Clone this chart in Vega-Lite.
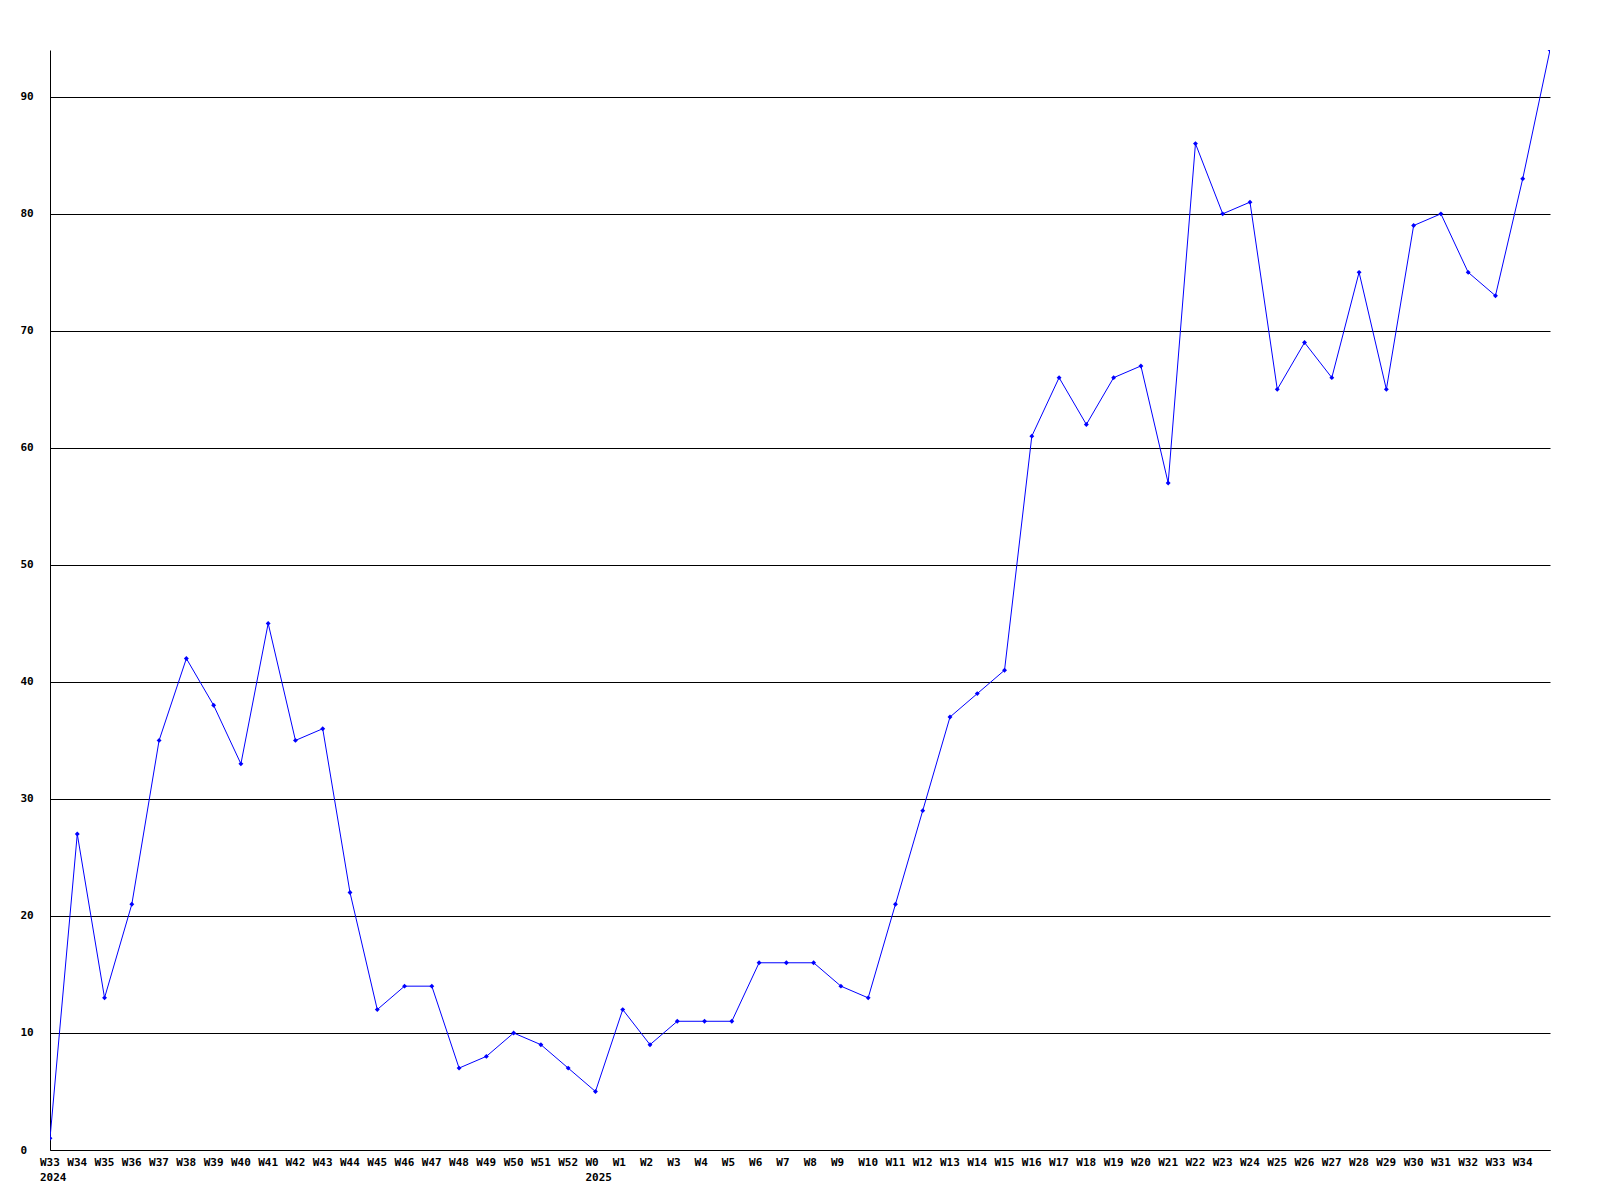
{
  "$schema": "https://vega.github.io/schema/vega-lite/v6.json",
  "width": 1500,
  "height": 1100,
  "autosize": {"type": "none"},
  "padding": {"left": 50, "top": 50, "right": 50, "bottom": 50},
  "background": "white",
  "config": {"view": {"stroke": null}},
  "data": {"values": [
    {"k": "2024-W33", "v": 1},
    {"k": "2024-W34", "v": 27},
    {"k": "2024-W35", "v": 13},
    {"k": "2024-W36", "v": 21},
    {"k": "2024-W37", "v": 35},
    {"k": "2024-W38", "v": 42},
    {"k": "2024-W39", "v": 38},
    {"k": "2024-W40", "v": 33},
    {"k": "2024-W41", "v": 45},
    {"k": "2024-W42", "v": 35},
    {"k": "2024-W43", "v": 36},
    {"k": "2024-W44", "v": 22},
    {"k": "2024-W45", "v": 12},
    {"k": "2024-W46", "v": 14},
    {"k": "2024-W47", "v": 14},
    {"k": "2024-W48", "v": 7},
    {"k": "2024-W49", "v": 8},
    {"k": "2024-W50", "v": 10},
    {"k": "2024-W51", "v": 9},
    {"k": "2024-W52", "v": 7},
    {"k": "2025-W0", "v": 5},
    {"k": "2025-W1", "v": 12},
    {"k": "2025-W2", "v": 9},
    {"k": "2025-W3", "v": 11},
    {"k": "2025-W4", "v": 11},
    {"k": "2025-W5", "v": 11},
    {"k": "2025-W6", "v": 16},
    {"k": "2025-W7", "v": 16},
    {"k": "2025-W8", "v": 16},
    {"k": "2025-W9", "v": 14},
    {"k": "2025-W10", "v": 13},
    {"k": "2025-W11", "v": 21},
    {"k": "2025-W12", "v": 29},
    {"k": "2025-W13", "v": 37},
    {"k": "2025-W14", "v": 39},
    {"k": "2025-W15", "v": 41},
    {"k": "2025-W16", "v": 61},
    {"k": "2025-W17", "v": 66},
    {"k": "2025-W18", "v": 62},
    {"k": "2025-W19", "v": 66},
    {"k": "2025-W20", "v": 67},
    {"k": "2025-W21", "v": 57},
    {"k": "2025-W22", "v": 86},
    {"k": "2025-W23", "v": 80},
    {"k": "2025-W24", "v": 81},
    {"k": "2025-W25", "v": 65},
    {"k": "2025-W26", "v": 69},
    {"k": "2025-W27", "v": 66},
    {"k": "2025-W28", "v": 75},
    {"k": "2025-W29", "v": 65},
    {"k": "2025-W30", "v": 79},
    {"k": "2025-W31", "v": 80},
    {"k": "2025-W32", "v": 75},
    {"k": "2025-W33", "v": 73},
    {"k": "2025-W34", "v": 83},
    {"k": "2025-W35", "v": 94}
  ]},
  "encoding": {
    "x": {
      "field": "k", "type": "ordinal", "sort": null,
      "scale": {"type": "point", "padding": 0},
      "axis": {
        "title": null, "grid": false, "ticks": false,
        "domainColor": "black", "domainWidth": 1,
        "labelAngle": 0, "labelAlign": "left", "labelOffset": -10.5,
        "labelBaseline": "top", "labelPadding": 6,
        "labelFont": "DejaVu Sans Mono", "labelFontWeight": "bold", "labelFontSize": 11,
        "labelColor": "black", "labelLineHeight": 15, "labelOverlap": false,
        "labelBound": false, "labelFlush": false,
        "labelExpr": "datum.value == '2025-W35' ? '' : datum.value == '2024-W33' ? ['W33', '2024'] : datum.value == '2025-W0' ? ['W0', '2025'] : split(datum.value, '-')[1]"
      }
    },
    "y": {
      "field": "v", "type": "quantitative",
      "scale": {"domain": [0, 94], "nice": false, "zero": true},
      "axis": {
        "title": null, "values": [0, 10, 20, 30, 40, 50, 60, 70, 80, 90],
        "grid": true, "gridColor": "black", "gridWidth": 1, "gridOpacity": 1,
        "ticks": false, "domainColor": "black", "domainWidth": 1,
        "labelAlign": "left", "labelPadding": 30, "labelBaseline": "middle",
        "labelFont": "DejaVu Sans Mono", "labelFontWeight": "bold", "labelFontSize": 11,
        "labelColor": "black"
      }
    }
  },
  "layer": [
    {"mark": {"type": "line", "color": "#0000ff", "strokeWidth": 1, "clip": true}},
    {"mark": {"type": "point", "shape": "diamond", "filled": true, "color": "#0000ff", "size": 24, "opacity": 1, "clip": true}}
  ]
}
